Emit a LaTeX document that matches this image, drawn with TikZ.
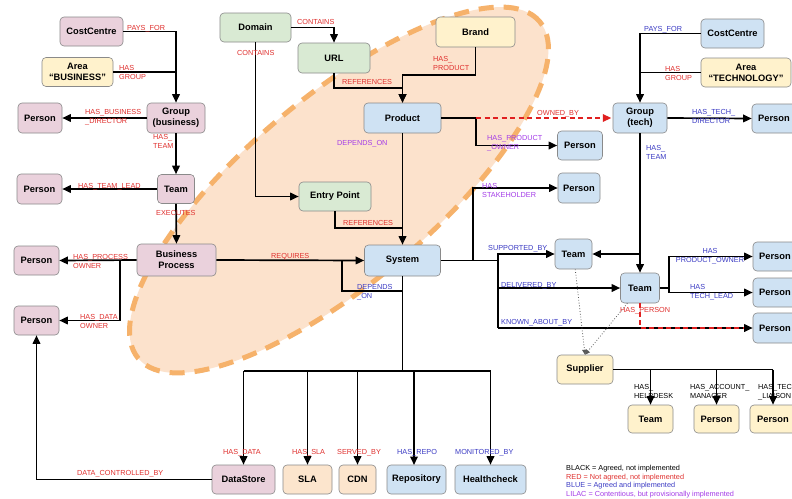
\documentclass[tikz,border=0pt]{standalone}
\usepackage{fontspec}
\setmainfont{Liberation Sans}
\usetikzlibrary{arrows.meta,calc}
\definecolor{pinkf}{HTML}{EAD1DC}
\definecolor{yelf}{HTML}{FFF2CC}
\definecolor{grnf}{HTML}{D9EAD3}
\definecolor{bluf}{HTML}{CFE2F3}
\definecolor{pchf}{HTML}{FCE5CD}
\definecolor{bord}{HTML}{8A8A8A}
\definecolor{lred}{HTML}{E0302E}
\definecolor{lblue}{HTML}{3B3BC4}
\definecolor{lilac}{HTML}{A43CE8}
\definecolor{ellf}{HTML}{FCE2CC}
\definecolor{elld}{HTML}{F6B26B}
\definecolor{dashred}{HTML}{E02020}
\begin{document}
\begin{tikzpicture}[x=1pt,y=-1pt,
  box/.style={draw=bord, line width=0.6pt, rounded corners=4pt, align=center, inner sep=1pt,
    font=\fontsize{9.3}{11}\selectfont\bfseries},
  wh/.style 2 args={minimum width=#1pt, minimum height=#2pt},
  pinkbox/.style={box, fill=pinkf},
  yelbox/.style={box, fill=yelf},
  grnbox/.style={box, fill=grnf},
  blubox/.style={box, fill=bluf},
  pchbox/.style={box, fill=pchf},
  ln/.style={line width=1.7pt},
  arr/.style={line width=1.7pt, -{Triangle[length=8.5pt,width=7.5pt]}},
  rdash/.style={line width=1.7pt, dashred, dash pattern=on 5pt off 3.5pt},
  rarr/.style={rdash, -{Triangle[length=8.5pt,width=7.5pt,fill=dashred,sep]}},
  dotarr/.style={dotted, line width=0.8pt, black!65, -{Triangle[length=5pt,width=4.5pt]}},
  lb/.style={inner sep=0pt, anchor=north west, align=left, font=\fontsize{7.3}{8.8}\selectfont},
  lbc/.style={inner sep=0pt, anchor=north, align=center, font=\fontsize{7.3}{8.8}\selectfont},
  rd/.style={lb, text=lred},
  bl/.style={lb, text=lblue},
  li/.style={lb, text=lilac},
]
\fill[white] (0,0) rectangle (792,498);
\useasboundingbox (0,0) rectangle (792,498);

% highlighted region
\draw[elld, line width=5pt, dash pattern=on 15pt off 10pt, fill=ellf,
  rotate around={40:(339,190)}] (339,190) ellipse [x radius=262pt, y radius=93pt];

% ---- left nodes
\node[pinkbox, wh={63}{29}] (ccb) at (91.5,31.5) {CostCentre};
\node[yelbox, wh={71}{29}] (areab) at (77.5,72) {Area\\“BUSINESS”};
\node[pinkbox, wh={44}{30}] (pbd) at (40,118) {Person};
\node[pinkbox, wh={58}{30}] (grpb) at (176,118) {Group\\(business)};
\node[pinkbox, wh={37}{29}] (teamb) at (176,189) {Team};
\node[pinkbox, wh={45}{30}] (ptl) at (39.5,189) {Person};
\node[pinkbox, wh={79}{32}] (bp) at (176.5,260) {Business\\Process};
\node[pinkbox, wh={45}{29}] (ppo) at (36.5,260.5) {Person};
\node[pinkbox, wh={45}{29}] (pdo) at (36.5,320.5) {Person};

% ---- middle nodes
\node[grnbox, wh={71}{29}] (domain) at (255.5,27.5) {Domain};
\node[grnbox, wh={72}{30}] (url) at (334,58) {URL};
\node[yelbox, wh={79}{30}] (brand) at (475.5,32) {Brand};
\node[blubox, wh={77}{30}] (product) at (402.5,118) {Product};
\node[grnbox, wh={72}{29}] (entry) at (335,196.5) {Entry Point};
\node[blubox, wh={76}{31}] (system) at (402.5,260.5) {System};
\node[blubox, wh={45}{29}] (pprod) at (580,145.5) {Person};
\node[blubox, wh={42}{30}] (pstake) at (579,188) {Person};

% ---- right nodes
\node[blubox, wh={63}{29}] (cct) at (732.5,33.5) {CostCentre};
\node[yelbox, wh={90}{29}] (areat) at (746,72.5) {Area\\“TECHNOLOGY”};
\node[blubox, wh={54}{30}] (grpt) at (640,118) {Group\\(tech)};
\node[blubox, wh={44}{29}] (ptd) at (774,118.5) {Person};
\node[blubox, wh={37}{30}] (teams) at (573.5,254) {Team};
\node[blubox, wh={39}{30}] (teamd) at (640,288) {Team};
\node[blubox, wh={44}{29}] (ppo2) at (775,256.5) {Person};
\node[blubox, wh={44}{29}] (ptl2) at (775,292.5) {Person};
\node[blubox, wh={44}{30}] (pkab) at (775,328) {Person};
\node[yelbox, wh={56}{29}] (supplier) at (585,369.5) {Supplier};
\node[yelbox, wh={45}{28}] (teamh) at (650.5,419) {Team};
\node[yelbox, wh={45}{28}] (pam) at (716.5,419) {Person};
\node[yelbox, wh={46}{28}] (ptli) at (773,419) {Person};

% ---- bottom nodes
\node[pinkbox, wh={63}{29}] (ds) at (243.5,479.5) {DataStore};
\node[pchbox, wh={49}{29}] (sla) at (307.5,479.5) {SLA};
\node[pchbox, wh={37}{29}] (cdn) at (357.5,479.5) {CDN};
\node[blubox, wh={59}{29}] (repo) at (416.5,479.5) {Repository};
\node[blubox, wh={71}{29}] (hc) at (490.5,479.5) {Healthcheck};

% ---- junction coordinates
\coordinate (pj) at (476,118);
\coordinate (sj) at (473,260.5);
\coordinate (vj) at (498,260.5);
\coordinate (tj) at (669,288);
\coordinate (bus) at (402.5,371);
\coordinate (dj) at (120,260);
\coordinate (loopc) at (342,260.5);

% ---- left connectors
\draw[arr] (ccb.east) -| (grpb.north);
\draw[ln] (areab.east) -- (areab.east -| grpb.north);
\draw[arr] (grpb.west) -- (pbd.east);
\draw[arr] (grpb.south) -- (teamb.north);
\draw[arr] (teamb.west) -- (ptl.east);
\draw[arr] (teamb.south) -- (bp.north);
\draw[arr] (bp.west) -- (ppo.east);
\draw[arr] (dj) |- (pdo.east);
\draw[arr] (ds.west) -| (pdo.south);
\draw[arr] (bp.east) -- (system.west);
\draw[ln] ($(system.south)+(0,15)$) -| (loopc);

% ---- middle connectors
\draw[arr] (domain.east) -| (url.north);
\draw[arr] (domain.south) |- (entry.west);
\draw[arr] (url.south) -- ++(0,15) -| (product.north);
\draw[arr] (brand.south) -- ++(0,28) -| (product.north);
\draw[arr] (product.east) -- (pj) |- (pprod.west);
\draw[rarr] (pj) -- (grpt.west);
\draw[arr] (product.south) -- (system.north);
\draw[ln] (entry.south) |- (402.5,228);
\draw[arr] (system.east) -- (sj) |- (pstake.west);
\draw[ln] (sj) -- (vj);
\draw[arr] (498,327.5) |- (teams.west);
\draw[arr] (498,288) -- (teamd.west);
\draw[arr] (498,328) -- (pkab.west);

% ---- right connectors
\draw[arr] (cct.west) -| (grpt.north);
\draw[ln] (areat.west) -- (areat.west -| grpt.north);
\draw[arr] (grpt.east) -- (ptd.west);
\draw[arr] (grpt.south) -- (teamd.north);
\draw[arr] (grpt.south |- teams.east) -- (teams.east);
\draw[ln] (teamd.east) -- (tj);
\draw[arr] (tj) |- (ppo2.west);
\draw[arr] (tj) |- (ptl2.west);
\draw[rdash, shorten >=8.5pt] (teamd.south) |- (pkab.west);
\draw[dotarr] (teams) -- (supplier.north);
\draw[dotarr] (teamd) -- (supplier.north);
\draw[ln] (supplier.east) -- (supplier.east -| ptli.north);
\draw[arr] (supplier.east -| teamh.north) -- (teamh.north);
\draw[arr] (supplier.east -| pam.north) -- (pam.north);
\draw[arr] (supplier.east -| ptli.north) -- (ptli.north);

% ---- bottom bus
\draw[ln] (system.south) -- (bus);
\draw[ln] (bus -| ds.north) -- (bus -| hc.north);
\draw[arr] (bus -| ds.north) -- (ds.north);
\draw[arr] (bus -| sla.north) -- (sla.north);
\draw[arr] (bus -| cdn.north) -- (cdn.north);
\draw[arr] (bus -| 414,0) -- (414,465);
\draw[arr] (bus -| hc.north) -- (hc.north);

% ---- labels
\node[rd] (l1) at (127,25) {PAYS\_FOR};
\node[rd] (l2) at (119,65.5) {HAS\\GROUP};
\node[rd] (l3) at (85,109.5) {HAS\_BUSINESS\\\_DIRECTOR};
\node[rd] (l4) at (153,134.5) {HAS\_\\TEAM};
\node[rd] (l5) at (78,183.5) {HAS\_TEAM\_LEAD};
\node[rd] (l6) at (156,210.5) {EXECUTES};
\node[rd] (l7) at (73,254.5) {HAS\_PROCESS\\OWNER};
\node[rd] (l8) at (80,314.5) {HAS\_DATA\\OWNER};
\node[rd] (l9) at (77,470.5) {DATA\_CONTROLLED\_BY};
\node[rd] (l10) at (297,19.5) {CONTAINS};
\node[rd] (l11) at (237,50.5) {CONTAINS};
\node[rd] (l12) at (342,79.5) {REFERENCES};
\node[li] (l13) at (337,140.5) {DEPENDS\_ON};
\node[rd] (l14) at (433,56.5) {HAS\_\\PRODUCT};
\node[rd] (l15) at (537,110.5) {OWNED\_BY};
\node[li] (l16) at (487,135.5) {HAS\_PRODUCT\\\_OWNER};
\node[rd] (l17) at (343,220.5) {REFERENCES};
\node[rd] (l18) at (271,253.5) {REQUIRES};
\node[bl] (l19) at (357,284.5) {DEPENDS\\\_ON};
\node[li] (l20) at (482,183.5) {HAS\\STAKEHOLDER};
\node[bl] (l21) at (488,245.5) {SUPPORTED\_BY};
\node[bl] (l22) at (501,282.5) {DELIVERED\_BY};
\node[bl] (l23) at (501,319.5) {KNOWN\_ABOUT\_BY};
\node[bl] (l24) at (644,26.5) {PAYS\_FOR};
\node[rd] (l25) at (665,66.5) {HAS\\GROUP};
\node[bl] (l26) at (692,109.5) {HAS\_TECH\_\\DIRECTOR};
\node[bl] (l27) at (646,145.5) {HAS\_\\TEAM};
\node[lbc, text=lblue] (l28) at (710,248.5) {HAS\\PRODUCT\_OWNER};
\node[bl] (l29) at (690,284.5) {HAS\\TECH\_LEAD};
\node[rd] (l30) at (620,307.5) {HAS\_PERSON};
\node[lb] (l31) at (634,384.5) {HAS\_\\HELPDESK};
\node[lb] (l32) at (690,384.5) {HAS\_ACCOUNT\_\\MANAGER};
\node[lb] (l33) at (758,384.5) {HAS\_TECH\\\_LIAISON};
\node[rd] (l34) at (223,449.5) {HAS\_DATA};
\node[rd] (l35) at (292,449.5) {HAS\_SLA};
\node[rd] (l36) at (337,449.5) {SERVED\_BY};
\node[bl] (l37) at (397,449.5) {HAS\_REPO};
\node[bl] (l38) at (455,449.5) {MONITORED\_BY};

% ---- legend
\node[lb] (lg1) at (566,465) {BLACK = Agreed, not implemented};
\node[lb, text=lred] (lg2) at (566,474) {RED = Not agreed, not implemented};
\node[lb, text=lblue] (lg3) at (566,482.5) {BLUE = Agreed and implemented};
\node[lb, text=lilac] (lg4) at (566,491) {LILAC = Contentious, but provisionally implemented};
\end{tikzpicture}
\end{document}
